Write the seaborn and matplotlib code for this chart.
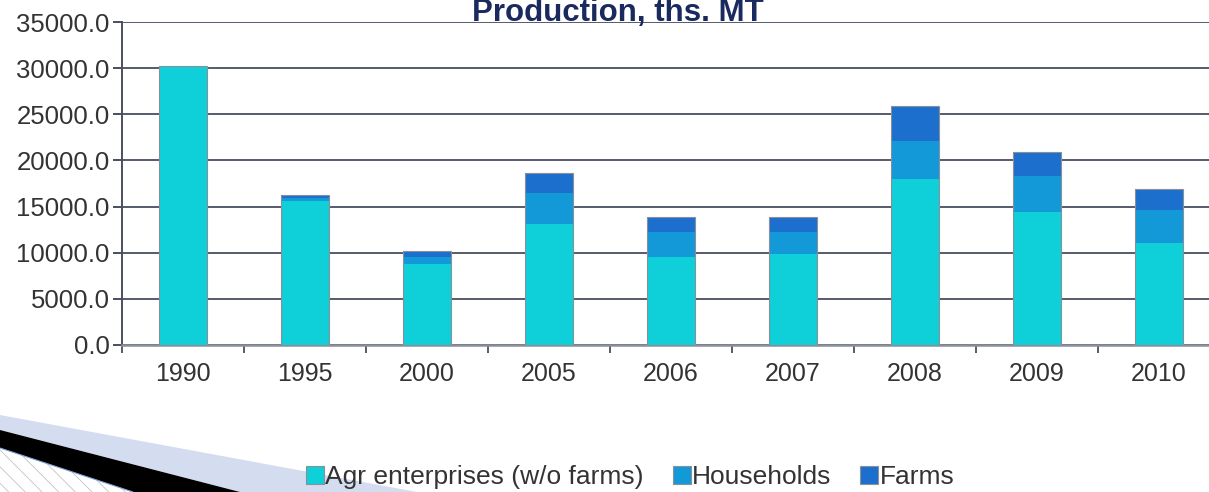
import numpy as np
import pandas as pd
import matplotlib
matplotlib.use("Agg")
import matplotlib.pyplot as plt
from matplotlib.patches import Polygon
from matplotlib.ticker import FormatStrFormatter, FixedLocator
import seaborn as sns

# Production, ths. MT
years = ["1990", "1995", "2000", "2005", "2006", "2007", "2008", "2009", "2010"]
agr_enterprises = [30230, 15600, 8750, 13080, 9570, 9830, 17950, 14440, 11080]
households = [0, 350, 800, 3420, 2710, 2450, 4150, 3870, 3550]
farms = [0, 300, 600, 2170, 1620, 1620, 3790, 2600, 2240]

series_names = ["Agr enterprises (w/o farms)", "Households", "Farms"]
colors = ["#0fcfd8", "#1399d8", "#1c6fcc"]

df = pd.DataFrame({
    "year": years,
    "agr": agr_enterprises,
    "hh": households,
    "farms": farms,
})
df["lvl1"] = df["agr"]
df["lvl2"] = df["agr"] + df["hh"]
df["lvl3"] = df["lvl2"] + df["farms"]

sns.set_theme(style="white")
plt.rcParams["font.family"] = ["Liberation Sans", "DejaVu Sans"]
plt.rcParams["hatch.linewidth"] = 0.5

fig = plt.figure(figsize=(12.09, 4.92), dpi=100)
ax = fig.add_axes([122 / 1209, 147 / 492, 1098 / 1209, 323 / 492])

# stacked bars: draw cumulative totals from the top layer down
for col, color in zip(["lvl3", "lvl2", "lvl1"], colors[::-1]):
    sns.barplot(data=df, x="year", y=col, color=color, width=0.4,
                linewidth=0, saturation=1, ax=ax, zorder=3)
# thin grey outline around each whole stack
sns.barplot(data=df, x="year", y="lvl3", color="#8a9099", width=0.4,
            fill=False, linewidth=0.8, ax=ax, zorder=4)

ax.set_xlim(-0.5, len(years) - 0.5)
ax.set_ylim(0, 35000)
ax.set_xlabel("")
ax.set_ylabel("")

# grid
ax.yaxis.set_major_locator(FixedLocator(np.arange(0, 35001, 5000)))
ax.yaxis.set_major_formatter(FormatStrFormatter("%.1f"))
ax.grid(axis="y", color="#555b6b", linewidth=1.4, zorder=0)
ax.set_axisbelow(True)

for side in ["top", "right"]:
    ax.spines[side].set_visible(False)
ax.spines["left"].set_color("#4a4f5e")
ax.spines["left"].set_linewidth(1.4)
ax.spines["bottom"].set_color("#8a8f99")
ax.spines["bottom"].set_linewidth(1.8)

ax.tick_params(axis="y", which="major", length=6.5, width=1.4, color="#4a4f5e",
               labelsize=18.5, labelcolor="#333333", pad=2.5, left=True)
ax.xaxis.set_minor_locator(FixedLocator(np.arange(-0.5, len(years), 1.0)))
ax.tick_params(axis="x", which="major", length=0, labelsize=18,
               labelcolor="#333333", pad=12)
ax.tick_params(axis="x", which="minor", length=6, width=1.3, color="#4a4f5e",
               bottom=True)

# title
fig.text(618 / 1209, 1 - 21 / 492, "Production, ths. MT", ha="center",
         va="baseline", fontsize=22.5, fontweight="bold", color="#1b2a5e")

# legend
handles = [plt.Rectangle((0, 0), 1, 1, facecolor=c, edgecolor="#8a9099",
                         linewidth=0.8) for c in colors]
fig.legend(handles, series_names, loc="center", bbox_to_anchor=(630 / 1209, 15 / 492),
           ncol=3, frameon=False, fontsize=19, handlelength=0.68,
           handleheight=0.68, handletextpad=0.05, columnspacing=1.1,
           labelcolor="#333333", borderpad=0, borderaxespad=0)

# slide decoration, bottom left
W, H = 1209, 492
def fc(pts):
    return [(x / W, 1 - y / H) for x, y in pts]

fig.add_artist(Polygon(fc([(0, 415), (417, 492), (240, 492), (0, 430)]),
                       closed=True, facecolor="#d3ddef", edgecolor="none",
                       transform=fig.transFigure, zorder=0))
fig.add_artist(Polygon(fc([(0, 430), (240, 492), (133, 492), (0, 448)]),
                       closed=True, facecolor="black", edgecolor="none",
                       transform=fig.transFigure, zorder=1))
fig.add_artist(Polygon(fc([(0, 448), (133, 492), (0, 492)]),
                       closed=True, facecolor="white", edgecolor="#b8b8b8",
                       linewidth=0, hatch="\\\\", transform=fig.transFigure,
                       zorder=1))
fig.add_artist(Polygon(fc([(0, 448), (133, 492)]), closed=False,
                       fill=False, edgecolor="#7f9bd0", linewidth=0.8,
                       transform=fig.transFigure, zorder=2))

fig.savefig("out.png", dpi=100)
